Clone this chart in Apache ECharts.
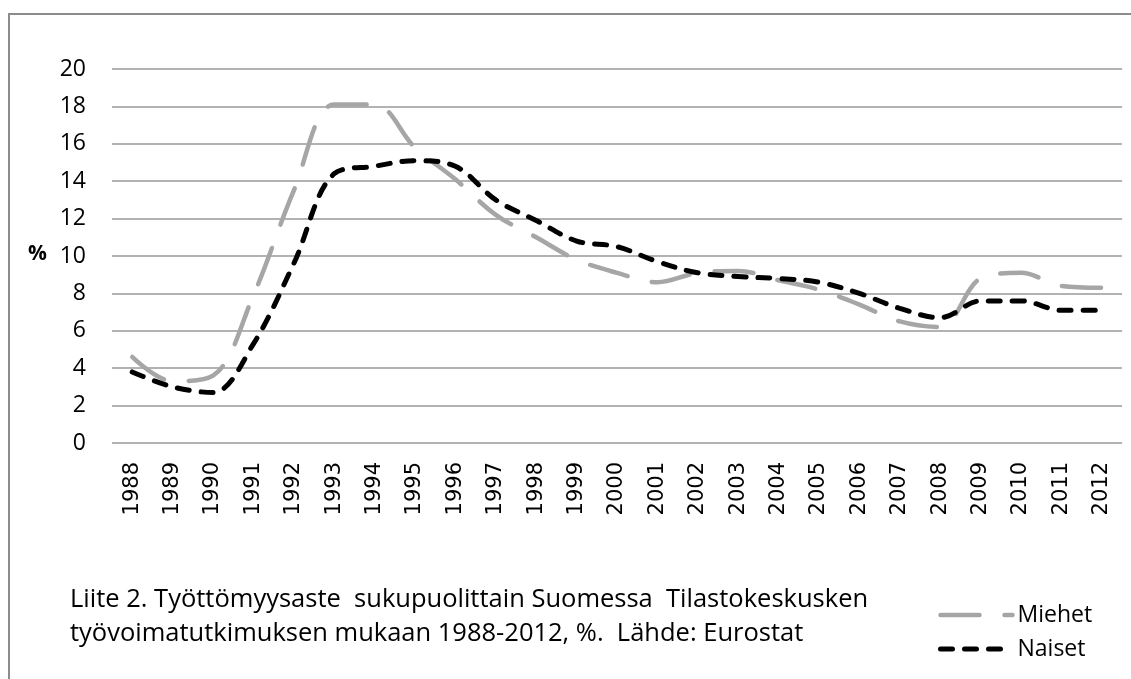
<!DOCTYPE html>
<html>
<head>
<meta charset="utf-8">
<script src="https://cdn.jsdelivr.net/npm/echarts@6/dist/echarts.min.js"></script>
<style>
    html, body { margin: 0; padding: 0; background: #fff; }
    #chart { width: 1131px; height: 679px; }
</style>
</head>
<body>
<div id="chart"></div>
<script>
// vuodet ja työttömyysasteet (%)
var years = ['1988','1989','1990','1991','1992','1993','1994','1995','1996','1997','1998','1999',
    '2000','2001','2002','2003','2004','2005','2006','2007','2008','2009','2010','2011','2012'];
var miehet = [4.6, 3.3, 3.6, 7.9, 13.5, 18.1, 18.1, 15.8, 14.1, 12.2, 11.0, 9.8,
    9.1, 8.6, 9.1, 9.2, 8.7, 8.2, 7.4, 6.5, 6.2, 8.8, 9.1, 8.4, 8.3];
var naiset = [3.8, 3.0, 2.7, 5.3, 9.6, 14.4, 14.8, 15.1, 14.8, 13.0, 11.9, 10.8,
    10.5, 9.7, 9.1, 8.9, 8.8, 8.6, 8.0, 7.2, 6.7, 7.6, 7.6, 7.1, 7.1];
var yTicks = { min: 0, max: 20, step: 2 };
var caption = 'Liite 2. Työttömyysaste  sukupuolittain Suomessa  Tilastokeskusken\ntyövoimatutkimuksen mukaan 1988-2012, %.  Lähde: Eurostat';

var mStyle = { color: '#a6a6a6', width: 4.5, type: [39, 25], cap: 'round' };
var nStyle = { color: '#000', width: 5, type: [12, 12], cap: 'round' };

var chart = echarts.init(document.getElementById('chart'));

var option = {
    backgroundColor: '#fff',
    animation: false,
    grid: {
        left: 112,
        right: 9,
        top: 69,
        bottom: 236,
        containLabel: false
    },
    legend: {
        orient: 'vertical',
        left: 933,
        top: 598,
        itemWidth: 72,
        itemHeight: 24,
        itemGap: 10,
        data: [
            { name: 'Miehet', lineStyle: mStyle, itemStyle: { opacity: 0 } },
            { name: 'Naiset', lineStyle: nStyle, itemStyle: { opacity: 0 } }
        ],
        textStyle: {
            fontFamily: 'Open Sans',
            fontSize: 23,
            lineHeight: 24,
            color: '#000'
        }
    },
    graphic: [
        {
            type: 'rect',
            silent: true,
            shape: { x: 9, y: 14, width: 1140, height: 700 },
            style: { fill: 'none', stroke: '#8c8c8c', lineWidth: 2 }
        },
        {
            type: 'text',
            left: 28,
            top: 244,
            style: {
                text: '%',
                fontFamily: 'Open Sans',
                fontWeight: 'bold',
                fontSize: 21,
                fill: '#000'
            }
        },
        {
            type: 'text',
            left: 70,
            top: 583,
            style: {
                text: caption,
                fontFamily: 'Open Sans',
                fontSize: 25.5,
                lineHeight: 34,
                fill: '#000'
            }
        }
    ],
    xAxis: {
        type: 'category',
        data: years,
        boundaryGap: true,
        axisTick: { show: false },
        axisLine: { show: false },
        axisLabel: {
            rotate: 90,
            margin: 19,
            interval: 0,
            fontFamily: 'DejaVu Sans',
            fontSize: 21,
            color: '#000'
        }
    },
    yAxis: {
        type: 'value',
        min: yTicks.min,
        max: yTicks.max,
        interval: yTicks.step,
        axisLine: { show: false },
        axisTick: { show: false },
        axisLabel: {
            margin: 26,
            fontFamily: 'Open Sans',
            fontSize: 23,
            color: '#000'
        },
        splitLine: {
            lineStyle: { color: '#999', width: 1.6 }
        }
    },
    series: [
        {
            name: 'Miehet',
            type: 'line',
            data: miehet,
            smooth: 0.35,
            symbol: 'none',
            itemStyle: { color: '#a6a6a6' },
            lineStyle: mStyle,
            z: 2
        },
        {
            name: 'Naiset',
            type: 'line',
            data: naiset,
            smooth: 0.35,
            symbol: 'none',
            itemStyle: { color: '#000' },
            lineStyle: nStyle,
            z: 3
        }
    ]
};

chart.setOption(option);
window.addEventListener('resize', function () {
    chart.resize();
});
</script>
</body>
</html>
